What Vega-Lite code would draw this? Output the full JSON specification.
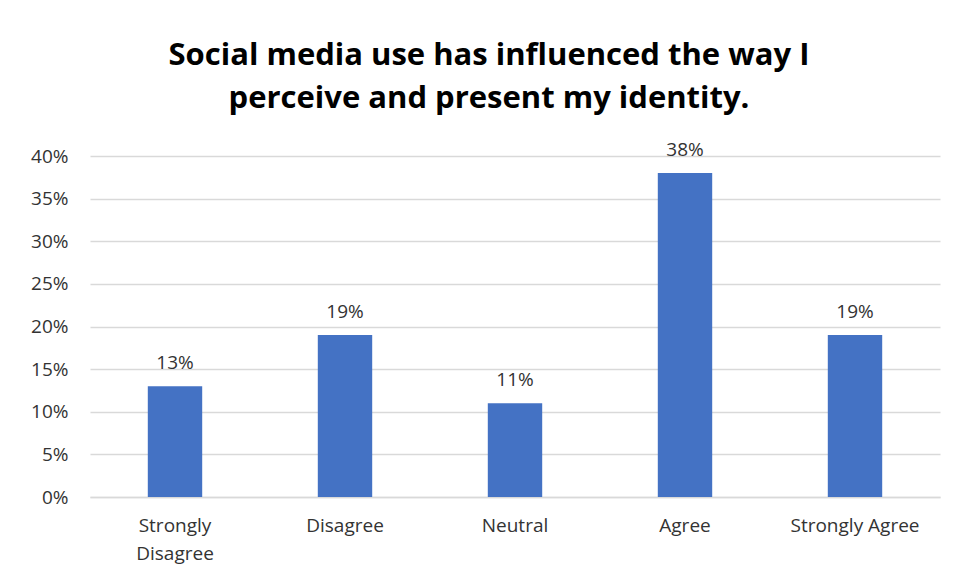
{
  "$schema": "https://vega.github.io/schema/vega-lite/v6.json",
  "autosize": "none",
  "width": 850,
  "height": 341,
  "padding": {"left": 90, "top": 156, "right": 17, "bottom": 84},
  "background": "white",
  "title": {
    "text": ["Social media use has influenced the way I", "perceive and present my identity."],
    "font": "Open Sans",
    "fontWeight": "bold",
    "fontSize": 31,
    "lineHeight": 43,
    "color": "#000000",
    "anchor": "middle",
    "frame": "group",
    "dx": -26,
    "offset": 26
  },
  "data": {
    "values": [
      {"response": "Strongly Disagree", "pct": 0.13},
      {"response": "Disagree", "pct": 0.19},
      {"response": "Neutral", "pct": 0.11},
      {"response": "Agree", "pct": 0.38},
      {"response": "Strongly Agree", "pct": 0.19}
    ]
  },
  "encoding": {
    "x": {
      "field": "response",
      "type": "nominal",
      "sort": null,
      "scale": {"paddingInner": 0.68, "paddingOuter": 0.34},
      "axis": {
        "title": null,
        "labelAngle": 0,
        "labelFont": "Open Sans",
        "labelFontSize": 19,
        "labelColor": "#333333",
        "labelPadding": 19,
        "labelLineHeight": 28,
        "labelExpr": "datum.label == 'Strongly Disagree' ? ['Strongly', 'Disagree'] : datum.label",
        "ticks": false,
        "domainColor": "#d9d9d9",
        "domainWidth": 1.5
      }
    },
    "y": {
      "field": "pct",
      "type": "quantitative",
      "scale": {"domain": [0, 0.4]},
      "axis": {
        "title": null,
        "values": [0, 0.05, 0.1, 0.15, 0.2, 0.25, 0.3, 0.35, 0.4],
        "format": ".0%",
        "labelFont": "Open Sans",
        "labelFontSize": 19,
        "labelColor": "#333333",
        "labelPadding": 22,
        "ticks": false,
        "domain": false,
        "gridColor": "#d9d9d9",
        "gridWidth": 1.5
      }
    }
  },
  "layer": [
    {"mark": {"type": "bar", "color": "#4472C4"}},
    {
      "mark": {"type": "text", "baseline": "alphabetic", "dy": -17, "font": "Open Sans", "fontSize": 19, "color": "#333333"},
      "encoding": {"text": {"field": "pct", "type": "quantitative", "format": ".0%"}}
    }
  ],
  "config": {"view": {"stroke": null}}
}
